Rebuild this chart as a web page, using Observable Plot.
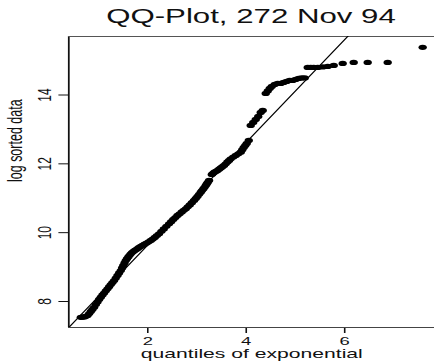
<!DOCTYPE html>
<html><head><meta charset="utf-8">
<script src="https://cdn.jsdelivr.net/npm/d3@7"></script>
<script src="https://cdn.jsdelivr.net/npm/@observablehq/plot@0.6"></script>
<style>
html,body{margin:0;padding:0;background:#fff;overflow:hidden}
#wrap{width:271.25px;transform:scaleX(1.6);transform-origin:0 0;font-family:"Liberation Sans",Arial,sans-serif}
#title{height:28px;line-height:32px;padding-left:42.5px;text-align:center;font-size:19.5px;color:#111;white-space:nowrap}
</style></head><body>
<div id="wrap"><div id="title">QQ-Plot, 272 Nov 94</div><div id="chart"></div></div>
<script>
// quantiles of exponential (x) and log sorted data (y)
const quantiles = [
0.64,0.67,0.71,0.74,0.776,0.81,0.843,0.875,0.91,0.945,0.979,1.012,1.046,1.08,1.113,1.148,1.182,1.215,1.249,1.282,
1.316,1.35,1.385,1.418,1.452,1.478,1.503,1.528,1.553,1.578,1.604,1.63,1.655,1.68,1.706,1.73,1.756,1.79,1.823,1.857,
1.892,1.934,1.976,2.018,2.061,2.10,2.142,2.185,2.229,2.277,2.325,2.378,2.432,2.475,2.518,2.56,2.603,2.646,2.69,2.73,
2.772,2.812,2.853,2.896,2.94,2.975,3.009,3.042,3.076,3.10,3.127,3.152,3.178,3.198,3.218,3.245,
3.30,3.314,3.337,3.36,3.39,3.415,3.448,3.482,3.515,3.549,3.583,3.618,3.652,3.685,3.736,3.787,3.838,3.888,3.92,3.949,3.98,4.01,4.051,
4.091,4.142,4.193,4.244,4.294,4.335,
4.396,4.437,4.477,4.518,4.579,4.640,4.701,4.761,4.822,4.883,4.944,5.005,5.066,5.127,5.188,
5.249,5.310,5.371,5.452,5.553,5.655,5.777,5.959,6.183,6.467,6.873,7.584
];
const logSorted = [
7.54,7.545,7.55,7.57,7.59,7.65,7.71,7.77,7.83,7.91,7.985,8.06,8.125,8.19,8.247,8.31,8.369,8.43,8.494,8.55,
8.61,8.68,8.756,8.83,8.90,8.975,9.047,9.12,9.19,9.245,9.294,9.34,9.387,9.42,9.453,9.48,9.503,9.535,9.57,9.60,
9.628,9.665,9.70,9.735,9.773,9.815,9.86,9.915,9.968,10.04,10.108,10.185,10.259,10.32,10.384,10.44,10.50,10.55,10.602,10.65,
10.695,10.75,10.805,10.87,10.936,10.995,11.052,11.115,11.177,11.225,11.27,11.32,11.372,11.415,11.459,11.517,
11.69,11.712,11.74,11.765,11.785,11.808,11.845,11.881,11.917,11.953,12.00,12.055,12.10,12.148,12.195,12.244,12.29,12.34,12.41,12.477,12.535,12.593,12.68,
13.116,13.203,13.291,13.378,13.494,13.552,
14.047,14.119,14.192,14.25,14.308,14.337,14.337,14.366,14.395,14.424,14.424,14.453,14.483,14.497,14.497,
14.802,14.802,14.802,14.802,14.817,14.831,14.86,14.919,14.948,14.948,14.948,15.384
];
const xTicks = [2, 4, 6];
const yTicks = [8, 10, 12, 14];
const xDomain = [0.396, 7.83];
const yDomain = [7.244, 15.70];
const refIntercept = 6.653;
const refSlope = 1.493;

const points = quantiles.map((q, i) => ({q, v: logSorted[i]}));
const lineData = xDomain.map(q => ({q, v: refIntercept + refSlope * q}));

const chart = Plot.plot({
  width: 271.25, height: 333,
  marginLeft: 42.5, marginRight: 0, marginTop: 8, marginBottom: 34,
  style: {fontFamily: "Liberation Sans, Arial, sans-serif", fontSize: "12px", color: "#111", background: "transparent", overflow: "visible"},
  x: {domain: xDomain},
  y: {domain: yDomain},
  marks: [
    Plot.axisX(xTicks, {tickSize: 6, tickPadding: 3, fontSize: 11.5, label: null}),
    Plot.axisY(yTicks, {tickSize: 6, tickPadding: 5, tickRotate: -90, fontSize: 12, label: null}),
    Plot.ruleX([xDomain[0]], {stroke: "#111", strokeWidth: 1.1}),
    Plot.ruleY([yDomain[0]], {stroke: "#444"}),
    Plot.ruleY([yDomain[1]], {stroke: "#555"}),
    Plot.line(lineData, {x: "q", y: "v", stroke: "#000", strokeWidth: 0.9, clip: true}),
    Plot.dot(points, {x: "q", y: "v", r: 2.6, fill: "#000", stroke: "none"}),
    Plot.text(["quantiles of exponential"], {text: d => d, frameAnchor: "bottom", lineAnchor: "bottom", dy: 30.5, fontSize: 13.2}),
    Plot.text(["log sorted data"], {text: d => d, frameAnchor: "left", rotate: -90, lineAnchor: "bottom", dx: -29.2, fontSize: 12.5})
  ]
});
document.getElementById("chart").appendChild(chart);
</script>
</body></html>
